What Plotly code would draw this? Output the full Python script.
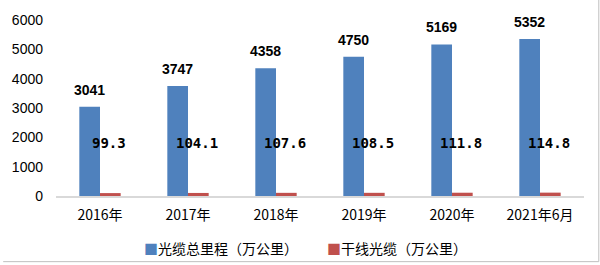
import plotly.graph_objects as go

categories = ["2016年", "2017年", "2018年", "2019年", "2020年", "2021年6月"]
total_cable = [3041, 3747, 4358, 4750, 5169, 5352]
trunk_cable = [99.3, 104.1, 107.6, 108.5, 111.8, 114.8]
y_ticks = [0, 1000, 2000, 3000, 4000, 5000, 6000]
series_names = ["光缆总里程（万公里）", "干线光缆（万公里）"]
trunk_label_y = 1800

blue = "#4F81BD"
red = "#C0504D"

fig = go.Figure()
fig.add_trace(go.Bar(
    x=categories, y=total_cable, name=series_names[0],
    marker=dict(color=blue, line=dict(width=0)),
))
fig.add_trace(go.Bar(
    x=categories, y=trunk_cable, name=series_names[1],
    marker=dict(color=red, line=dict(width=0)),
))

for c, v in zip(categories, total_cable):
    fig.add_annotation(
        x=c, y=v, xref="x", yref="y", text=str(v),
        showarrow=False, xshift=-11, yanchor="bottom", yshift=7,
        font=dict(family="Liberation Sans", size=14, color="#000000", weight="bold"),
    )

for c, v in zip(categories, trunk_cable):
    fig.add_annotation(
        x=c, y=trunk_label_y, xref="x", yref="y", text=f"{v:.1f}",
        showarrow=False, xshift=9,
        font=dict(family="DejaVu Sans Mono", size=14, color="#000000", weight="bold"),
    )

# legend drawn as text with coloured square markers
legend_items = [(series_names[0], blue, 138), (series_names[1], red, 323)]
for name, col, px in legend_items:
    fig.add_annotation(
        xref="paper", yref="paper",
        x=(px - 51) / (600 - 51 - 16), y=-(248 - 196) / (196 - 19),
        xanchor="left", yanchor="middle", showarrow=False,
        text=f'<span style="color:{col}">■</span>{name}',
        font=dict(family="Noto Sans CJK SC", size=14, color="#000000"),
    )

# image frame lines (right and bottom)
fig.add_shape(type="line", xref="paper", yref="paper", x0=-0.1, x1=1.028, y0=-0.373, y1=-0.373,
              line=dict(color="#BFBFBF", width=1))
fig.add_shape(type="line", xref="paper", yref="paper", x0=1.028, x1=1.028, y0=-0.373, y1=1.2,
              line=dict(color="#BFBFBF", width=1))

fig.update_layout(
    width=600, height=265,
    margin=dict(l=51, r=16, t=19, b=69),
    paper_bgcolor="white", plot_bgcolor="white",
    barmode="group", bargap=0.53, bargroupgap=0,
    font=dict(family="Noto Sans CJK SC", size=13, color="#000000"),
    showlegend=False,
    xaxis=dict(showline=True, linecolor="#D9D9D9", linewidth=2, ticks="",
               tickfont=dict(family="Noto Sans CJK SC", size=14), showgrid=False,
               ticklabelstandoff=5),
    yaxis=dict(range=[0, 6000], tickvals=y_ticks, showgrid=False, zeroline=False,
               showline=False, ticklabelstandoff=12,
               tickfont=dict(family="Liberation Sans", size=14)),
)

fig.write_html("out.html")
